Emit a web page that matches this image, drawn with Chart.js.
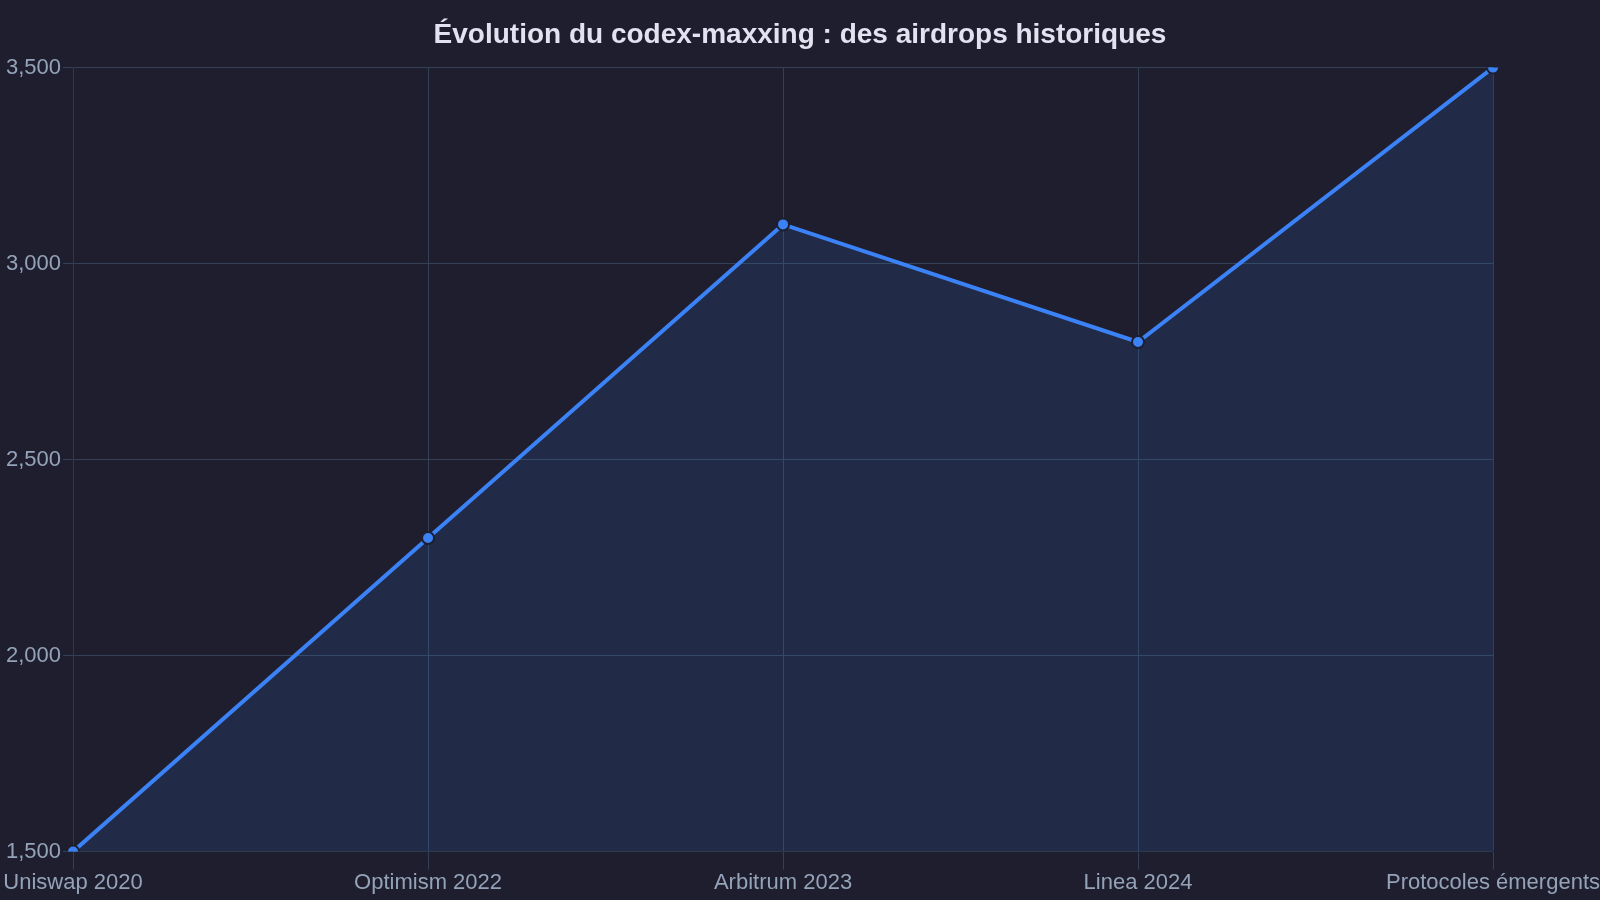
<!DOCTYPE html>
<html><head><meta charset="utf-8">
<script src="https://cdn.jsdelivr.net/npm/chart.js@4"></script>
<style>html,body{margin:0;background:#1e1e2e;}#w{width:1600px;height:900px;}</style>
</head><body><div id="w"><canvas id="c"></canvas></div>
<script>
const categories = ["Uniswap 2020","Optimism 2022","Arbitrum 2023","Linea 2024","Protocoles émergents"];
const values = [1500,2300,3100,2800,3500];
const titleText = "Évolution du codex-maxxing : des airdrops historiques";
Chart.defaults.font.family = "Liberation Sans, Arial, sans-serif";
new Chart(document.getElementById('c'), {
  type: 'line',
  data: { labels: categories, datasets: [{
    data: values, borderColor: '#3b82f6', borderWidth: 4,
    backgroundColor: 'rgba(59,130,246,0.12)', fill: true, tension: 0,
    pointRadius: 6, pointBackgroundColor: '#3b82f6', pointBorderColor: '#1e1e2e', pointBorderWidth: 2
  }]},
  options: {
    responsive: true, maintainAspectRatio: false, animation: false,
    layout: { padding: { left: 4, right: 4, bottom: 4 } },
    plugins: { legend: { display: false },
      title: { display: true, text: titleText, color: '#e2e2f0', font: { size: 28, weight: 'bold' }, padding: { top: 18, bottom: 16 } } },
    scales: {
      x: { grid: { color: '#334155', tickLength: 18 }, ticks: { color: '#94a3b8', font: { size: 22 }, maxRotation: 0, padding: 0 } },
      y: { min: 1500, max: 3500, grid: { color: '#334155', tickLength: 10 }, ticks: { color: '#94a3b8', font: { size: 22 }, stepSize: 500, padding: 2 } }
    }
  }
});
</script></body></html>
